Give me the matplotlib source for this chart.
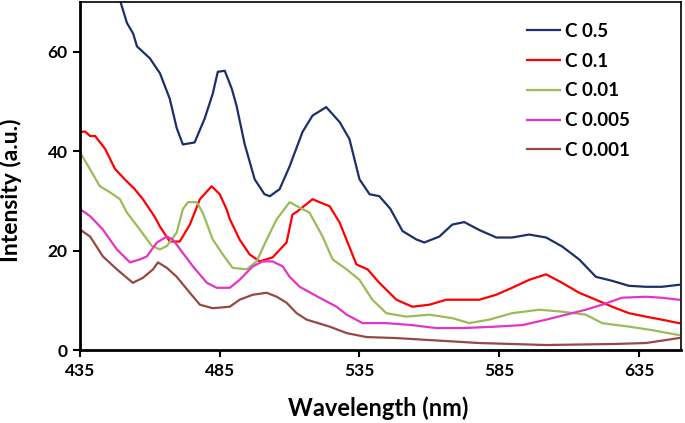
import matplotlib
matplotlib.use("Agg")
import matplotlib.pyplot as plt

plt.rcParams['font.family'] = ['Lato', 'DejaVu Sans']
plt.rcParams['font.weight'] = 'bold'

# C 0.5
x_c05 = [435, 440, 445, 449.3, 451.8, 454, 455.4, 460, 463.6, 467.1, 469.6, 471.8, 476, 479.6, 482.5,
         484.3, 486.8, 489.3, 491, 493.9, 497.5, 501, 502.9, 506.4, 510, 514.6, 518.2, 523.1, 527.9,
         531.4, 535, 538.6, 542.1, 546, 550.4, 555.4, 558.2, 563.6, 568.2, 572.5, 577.9, 584, 589.6,
         595.7, 601.8, 607.5, 613.6, 619.6, 625.4, 631.4, 637.5, 643.2, 649.3]
y_c05 = [80, 76, 73, 70.4, 65.8, 63.7, 61.1, 58.7, 55.7, 50.6, 44.7, 41.4, 41.8, 46.6, 51.6,
         56, 56.2, 52.6, 49.2, 41.5, 34.4, 31.4, 31, 32.4, 37, 43.9, 47.2, 48.9, 45.9,
         42.5, 34.4, 31.4, 31, 28.5, 24, 22.3, 21.7, 22.9, 25.3, 25.8, 24.2, 22.7, 22.7,
         23.3, 22.7, 20.9, 18.3, 14.8, 14, 13, 12.8, 12.8, 13.2]

# C 0.1
x_c01 = [435, 436.8, 438.6, 440.4, 444, 447.5, 451, 454.6, 457.5, 461.8, 463.6, 467.1, 470.7, 474.3,
         477.9, 482.1, 485, 487.5, 488.6, 492.1, 495.7, 499.3, 503.9, 508.9, 511, 512.9, 518.2, 520.7,
         524.3, 527.9, 533.9, 537.9, 542.1, 548.2, 553.9, 560, 566, 571.8, 577.9, 583.9, 589.6, 595.7,
         601.8, 607.5, 613.6, 619.6, 625.4, 631.4, 637.5, 643.2, 649.3]
y_c01 = [43.9, 44, 43.1, 43.1, 40.5, 36.5, 34.4, 32.4, 30.4, 26.8, 24.9, 21.9, 21.9, 25.3,
         30.4, 33.0, 31.4, 28.3, 26.4, 22.3, 19.3, 17.9, 18.7, 21.7, 27.3, 28, 30.4, 29.8,
         29, 25.7, 17.3, 16.3, 13.6, 10.2, 8.8, 9.2, 10.2, 10.2, 10.2, 11.2, 12.6, 14.2,
         15.3, 13.6, 11.6, 10.2, 8.8, 7.5, 6.8, 6.2, 5.5]

# C 0.01
x_c001 = [435, 438.6, 442.1, 445.7, 449.3, 451.8, 456.4, 460.7, 463.6, 466.1, 469.6, 471.8, 473.6,
          476.8, 478.9, 482.5, 486.1, 489.6, 494.6, 498.2, 501.8, 505.4, 510, 513.6, 517.1, 521.8,
          525.4, 530.4, 535, 539.6, 544.6, 551.8, 560, 568.2, 574.3, 581.4, 589.6, 599.3, 607.5,
          616, 621.8, 631.4, 639.6, 649.3]
y_c001 = [39.8, 36.4, 33, 31.8, 30.4, 27.7, 24.3, 21, 20.3, 21, 23.7, 28.4, 29.8,
          29.8, 27.7, 22.3, 19.3, 16.6, 16.3, 17.9, 22.3, 26.4, 29.8, 28.7, 27.7, 22.9,
          18.3, 16.3, 14.2, 10.2, 7.5, 6.8, 7.2, 6.5, 5.5, 6.2, 7.5, 8.2, 7.8,
          7.2, 5.5, 4.8, 4.1, 3.1]

# C 0.005
x_c0005 = [435, 438.6, 443.2, 448.2, 452.9, 456.4, 458.9, 462.5, 466.1, 468.2, 471.8, 475.4, 480.4,
           483.9, 488.6, 492.1, 496.8, 500.4, 503.9, 507.5, 510, 513.6, 520.7, 526.8, 530.4, 536.1,
           544.6, 553.9, 562.5, 571.8, 583.9, 593.2, 601.8, 608.9, 616, 621.8, 628.9, 637.5, 643.2,
           649.3]
y_c0005 = [28.4, 27, 24.3, 20.3, 17.7, 18.3, 18.9, 21.7, 22.9, 22.3, 19.6, 16.9, 13.6,
           12.6, 12.6, 14.2, 16.9, 17.9, 17.9, 16.9, 14.8, 12.8, 10.6, 8.8, 7.2, 5.5,
           5.5, 5.1, 4.5, 4.5, 4.8, 5.1, 6.2, 7.2, 8.2, 9.2, 10.6, 10.8, 10.6,
           10.2]

# C 0.001
x_c0001 = [435, 438.6, 443.2, 448.2, 453.9, 457.5, 461.1, 462.9, 466.1, 469.6, 474.3, 477.9, 482.5,
           488.6, 492.1, 496.8, 501.8, 505.4, 508.9, 512.5, 516.1, 524.3, 530.4, 537.5, 548.2, 560,
           577.9, 601.8, 625.4, 637.5, 649.3]
y_c0001 = [24.3, 22.9, 18.9, 16.3, 13.6, 14.6, 16.3, 17.7, 16.6, 14.8, 11.6, 9.2, 8.5,
           8.8, 10.2, 11.2, 11.6, 10.8, 9.6, 7.5, 6.2, 4.8, 3.5, 2.7, 2.5, 2.1,
           1.5, 1.1, 1.3, 1.5, 2.5]

series = [
    ("C 0.5", x_c05, y_c05, "#1C2F6B"),
    ("C 0.1", x_c01, y_c01, "#FF0000"),
    ("C 0.01", x_c001, y_c001, "#9BBB59"),
    ("C 0.005", x_c0005, y_c0005, "#E335C5"),
    ("C 0.001", x_c0001, y_c0001, "#984843"),
]

x_ticks = [435, 485, 535, 585, 635]
y_ticks = [0, 20, 40, 60]

fig = plt.figure(figsize=(6.85, 4.23), dpi=100)
ax = fig.add_axes([0.1168, 0.1714, 0.8772, 0.8236])

for name, xs, ys, c in series:
    ax.plot(xs, ys, color=c, lw=1.6, label=name)

ax.set_xlim(435, 650)
ax.set_ylim(0, 70)
ax.set_xticks(x_ticks)
ax.set_yticks(y_ticks)
ax.tick_params(axis='both', direction='out', length=5, width=1.5, labelsize=12.5, pad=4)
for lab in ax.get_xticklabels() + ax.get_yticklabels():
    lab.set_fontweight('bold')
for s in ['left', 'bottom']:
    ax.spines[s].set_linewidth(2)
for s in ['top', 'right']:
    ax.spines[s].set_linewidth(1.2)

ax.set_xlabel("Wavelength (nm)", fontsize=17, fontweight='bold')
ax.set_ylabel("Intensity (a.u.)", fontsize=16.5, fontweight='bold')
ax.xaxis.set_label_coords((378.5 - 80) / 601, (350.5 - 396) / 348.5)
ax.yaxis.set_label_coords((22 - 80) / 601, (350.5 - 190) / 348.5)

leg = ax.legend(loc='upper left', bbox_to_anchor=(527 / 685, 1 - 23 / 423), bbox_transform=fig.transFigure,
                frameon=False, fontsize=13.5, handlelength=1.75, handletextpad=0.27,
                labelspacing=0.68, borderpad=0, borderaxespad=0)
for t in leg.get_texts():
    t.set_fontweight('bold')

fig.savefig("out.png", dpi=100)
